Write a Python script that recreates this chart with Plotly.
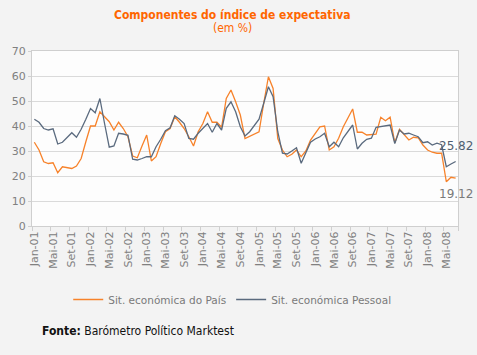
import plotly.graph_objects as go

months = ["Jan", "Fev", "Mar", "Abr", "Mai", "Jun", "Jul", "Ago", "Set", "Out", "Nov", "Dez"]
years = ["01", "02", "03", "04", "05", "06", "07", "08"]
categories = [f"{m}-{y}" for y in years for m in months][:91]  # Jan-01 .. Jul-08

pais = [33.5, 30.4, 25.7, 25.0, 25.3, 21.3, 23.7, 23.5, 23.0, 24.0,
        27.0, 33.7, 40.0, 40.0, 45.7, 43.7, 41.7, 38.4, 41.5, 39.0,
        35.7, 28.0, 27.3, 32.0, 36.4, 26.0, 27.7, 33.0, 37.7, 39.0,
        43.7, 41.5, 39.0, 35.7, 32.0, 37.7, 41.0, 45.7, 41.5, 41.5,
        39.5, 51.0, 54.4, 49.7, 44.4, 35.0, 36.0, 36.8, 37.7, 49.1,
        59.7, 55.0, 35.0, 30.4, 27.7, 28.7, 30.4, 27.7, 30.0, 34.4,
        37.1, 39.7, 40.0, 30.4, 31.7, 35.1, 39.7, 43.1, 46.8, 37.5,
        37.5, 36.4, 36.7, 36.7, 43.5, 42.1, 43.5, 33.3, 38.7, 36.4,
        34.4, 35.5, 35.3, 32.4, 30.4, 29.5, 29.1, 29.1, 17.7, 19.5,
        19.12]

pessoal = [42.7, 41.5, 39.0, 38.4, 38.9, 32.8, 33.5, 35.5, 37.3, 35.5,
           38.7, 42.7, 47.0, 45.3, 51.0, 41.0, 31.5, 32.0, 37.1, 36.8,
           36.3, 26.7, 26.4, 27.0, 27.7, 27.7, 31.7, 34.7, 38.1, 39.3,
           44.1, 42.7, 41.0, 35.0, 34.7, 37.1, 39.0, 41.0, 37.5, 41.0,
           38.4, 47.1, 49.7, 45.7, 39.7, 36.0, 37.7, 40.4, 42.7, 49.1,
           55.7, 51.7, 37.7, 29.1, 28.8, 30.0, 31.3, 25.1, 29.1, 33.5,
           34.8, 35.7, 37.1, 31.7, 33.5, 31.7, 35.3, 37.7, 40.4, 30.8,
           33.1, 34.7, 35.1, 39.5, 39.7, 40.0, 40.4, 33.0, 38.4, 36.8,
           37.1, 36.4, 35.7, 33.3, 33.7, 32.4, 33.1, 32.5, 23.7, 24.8,
           25.82]

series_names = ["Sit. económica do País", "Sit. económica Pessoal"]
y_ticks = [0, 10, 20, 30, 40, 50, 60, 70]

ORANGE = "#F7822A"
SLATE = "#5A6A7E"
FONT = "DejaVu Sans"
COND = "DejaVu Sans Condensed, Liberation Sans, sans-serif"

x = list(range(len(categories)))
label_idx = list(range(0, len(categories), 4))

fig = go.Figure()
fig.add_trace(go.Scatter(x=x, y=pais, mode="lines", name=series_names[0],
                         line=dict(color=ORANGE, width=1.3)))
fig.add_trace(go.Scatter(x=x, y=pessoal, mode="lines", name=series_names[1],
                         line=dict(color=SLATE, width=1.3)))

# end-of-series value labels
fig.add_annotation(x=x[-1], y=pessoal[-1], xref="x", yref="y",
                   text=f"{pessoal[-1]:.2f}", showarrow=False, yshift=15,
                   font=dict(family=FONT, size=12, color="#4F5E70"))
fig.add_annotation(x=x[-1], y=pais[-1], xref="x", yref="y",
                   text=f"{pais[-1]:.2f}", showarrow=False, yshift=-16,
                   font=dict(family=FONT, size=12, color="#7A7A7A"))

# title
fig.add_annotation(x=0.47, y=1.205, xref="paper", yref="paper",
                   text="<b>Componentes do índice de expectativa</b>",
                   showarrow=False, xanchor="center", yanchor="middle",
                   font=dict(family=COND, size=12, color="#FF6600"))
fig.add_annotation(x=0.47, y=1.13, xref="paper", yref="paper",
                   text="(em %)", showarrow=False, xanchor="center", yanchor="middle",
                   font=dict(family=COND, size=12, color="#FF6600"))

# source
fig.add_annotation(x=0.018, y=-0.60, xref="paper", yref="paper",
                   text="<b>Fonte:</b> Barómetro Político Marktest",
                   showarrow=False, xanchor="left", yanchor="middle",
                   font=dict(family=COND, size=12, color="#111111"))

fig.update_layout(
    width=477, height=355,
    margin=dict(l=32, r=19, t=51, b=129),
    paper_bgcolor="#F3F3F3",
    plot_bgcolor="#FDFDFD",
    showlegend=True,
    legend=dict(orientation="h", x=0.47, xanchor="center", y=-0.42, yanchor="middle",
                font=dict(family=FONT, size=10.5, color="#7A7A7A"),
                bgcolor="rgba(0,0,0,0)", itemwidth=30, tracegroupgap=0),
    font=dict(family=FONT, size=11, color="#808080"),
)

fig.update_xaxes(
    range=[-0.5, len(categories) - 0.5],
    tickmode="array", tickvals=label_idx, ticktext=[categories[i] for i in label_idx],
    tickangle=-90, ticks="",
    tickfont=dict(family=FONT, size=11, color="#808080"),
    showgrid=False, zeroline=False,
    showline=True, linecolor="#CFCFCF", linewidth=1, mirror=True,
    minor=dict(tickmode="array", tickvals=[i - 0.5 for i in label_idx] + [len(categories) - 0.5],
               ticks="outside", ticklen=4, tickcolor="#CFCFCF", showgrid=False),
)
fig.update_yaxes(
    range=[0, 70], tickmode="array", tickvals=y_ticks,
    ticks="outside", ticklen=3, tickcolor="#D0D0D0",
    tickfont=dict(family=FONT, size=11, color="#808080"),
    showgrid=True, gridcolor="#DADADA", gridwidth=1,
    zeroline=False,
    showline=True, linecolor="#CFCFCF", linewidth=1, mirror=True,
)

fig.write_html("out.html",
               config={"displayModeBar": False},
               post_script="document.body.style.margin='0';document.body.style.overflow='hidden';")
